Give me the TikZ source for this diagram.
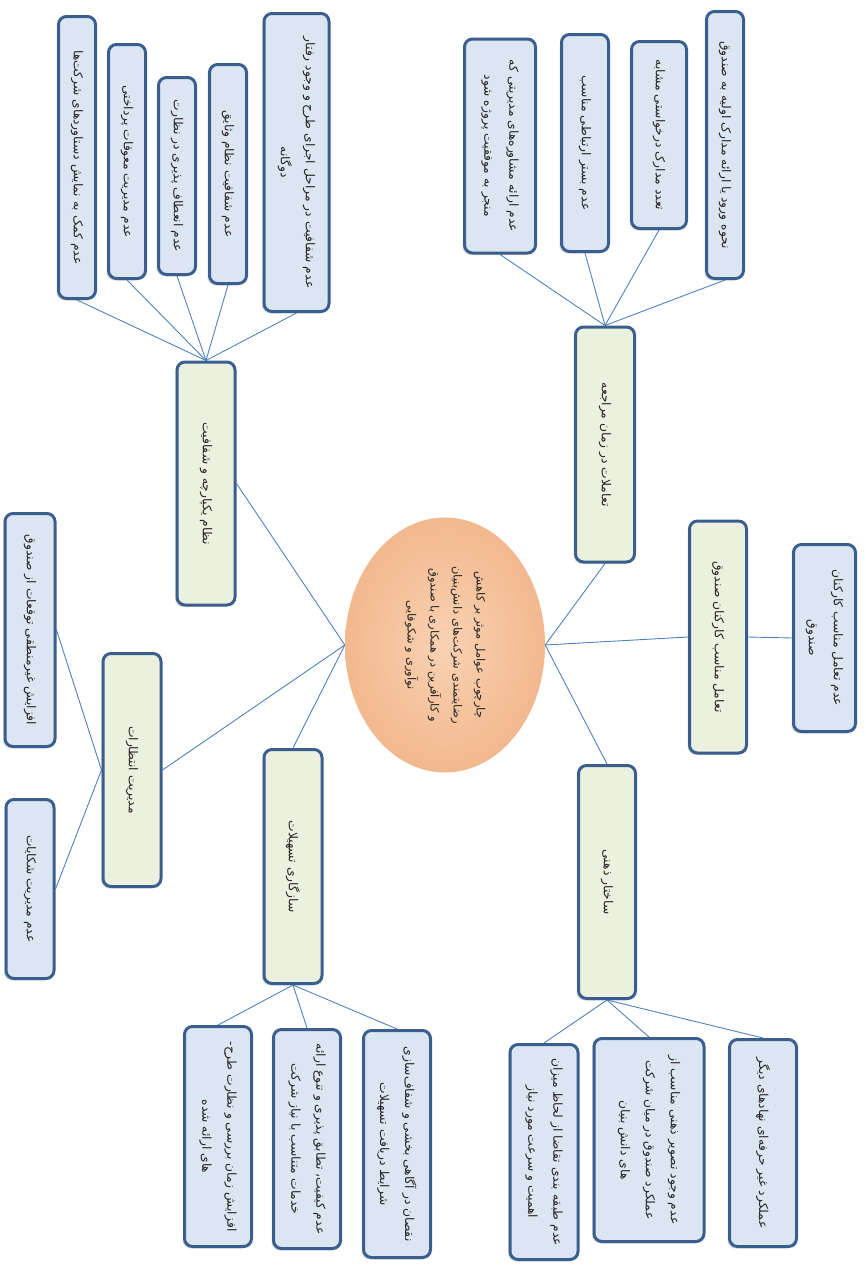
\documentclass[tikz,border=0pt]{standalone}
\usepackage{fontspec}
\usetikzlibrary{shapes.geometric,shadows,backgrounds}
\TeXXeTstate=1
\newfontfamily\arabicfont[Script=Arabic]{DejaVu Sans}
\newcommand{\rl}[1]{\beginR #1\endR}
\definecolor{bord}{HTML}{3A5F8E}
\definecolor{leaf}{HTML}{DCE6F2}
\definecolor{cat}{HTML}{EBF1DE}
\definecolor{linkc}{HTML}{4F81BD}
\definecolor{peachin}{HTML}{F9D2B2}
\definecolor{peachout}{HTML}{F2B88E}
\begin{document}
\begin{tikzpicture}[x=1pt,y=-1pt,
  box/.style={draw=bord, line width=3pt, rounded corners=8pt, rotate=-90, align=center, inner sep=2pt,
     font=\fontsize{12.3}{25}\selectfont\arabicfont, text=black!85,
     drop shadow={shadow xshift=-2pt,shadow yshift=-2pt,opacity=0.25}},
  leafbox/.style={box, fill=leaf},
  catbox/.style={box, fill=cat},
  conn/.style={draw=linkc, line width=0.9pt}]
\useasboundingbox (0,0) rectangle (865,1266);

% central ellipse
\node[ellipse, rotate=-90, minimum width=255, minimum height=200, inner sep=0,
  inner color=peachin, outer color=peachout, align=center, text=black!85,
  font=\fontsize{11.5}{23}\selectfont\arabicfont] (E) at (445,645)
  {\rl{چارچوب عوامل موثر بر کاهش}\\\rl{رضایتمندی شرکت‌های دانش‌بنیان}\\\rl{و کارآفرین در همکاری با صندوق}\\\rl{نوآوری و شکوفایی}};

% top-left group
\node[leafbox, minimum width=282, minimum height=37] (B1) at (77,157.5) {\rl{عدم کمک به نمایش دستاوردهای شرکت‌ها}};
\node[leafbox, minimum width=234, minimum height=37] (B2) at (127,161.5) {\rl{عدم مدیریت معوقات پرداختی}};
\node[leafbox, minimum width=197, minimum height=37] (B3) at (177,176) {\rl{عدم انعطاف پذیری در نظارت}};
\node[leafbox, minimum width=219, minimum height=37] (B4) at (228,174) {\rl{عدم شفافیت نظام وثایق}};
\node[leafbox, minimum width=298, minimum height=65] (B5) at (296.5,162.5) {\rl{عدم شفافیت در مراحل اجرای طرح و وجود رفتار}\\\rl{دوگانه}};
\node[catbox, minimum width=243, minimum height=58] (N) at (206,483.5) {\rl{نظام یکپارچه و شفافیت}};

% top-right group
\node[leafbox, minimum width=214, minimum height=71] (C1) at (500,146) {\rl{عدم ارائه مشاوره‌های مدیریتی که}\\\rl{منجر به موفقیت پروژه شود}};
\node[leafbox, minimum width=217, minimum height=47] (C2) at (585,143) {\rl{عدم بستر ارتباطی مناسب}};
\node[leafbox, minimum width=187, minimum height=55] (C3) at (659,135) {\rl{تعدد مدارک درخواستی مشابه}};
\node[leafbox, minimum width=267, minimum height=37] (C4) at (725,145) {\rl{نحوه ورود یا ارائه مدارک اولیه به صندوق}};
\node[catbox, minimum width=235, minimum height=59] (T) at (605,444.5) {\rl{تعاملات در زمان مراجعه}};

% right middle
\node[catbox, minimum width=232, minimum height=57] (R) at (718,637) {\rl{تعامل مناسب کارکنان صندوق}};
\node[leafbox, minimum width=187, minimum height=62] (D) at (824.5,638) {\rl{عدم تعامل مناسب کارکنان}\\\rl{صندوق}};

% bottom-right group
\node[catbox, minimum width=233, minimum height=57] (S) at (607,882) {\rl{ساختار ذهنی}};
\node[leafbox, minimum width=215, minimum height=68] (E1) at (544,1152) {\rl{عدم طبقه بندی تقاضا از لحاظ میزان}\\\rl{اهمیت و سرعت مورد نیاز}};
\node[leafbox, minimum width=203, minimum height=110] (E2) at (649,1140) {\rl{عدم وجود تصویر ذهنی مناسب از}\\\rl{عملکرد صندوق در میان شرکت}\\\rl{های دانش بنیان}};
\node[leafbox, minimum width=207, minimum height=67] (E3) at (763,1143) {\rl{عملکرد غیر حرفه‌ای نهادهای دیگر}};

% bottom-left group
\node[catbox, minimum width=234, minimum height=58] (A) at (293,866.5) {\rl{سازگاری تسهیلات}};
\node[leafbox, minimum width=220, minimum height=67] (F1) at (218,1136.5) {\rl{افزایش زمان بررسی و نظارت طرح-}\\\rl{های ارائه شده}};
\node[leafbox, minimum width=219, minimum height=67] (F2) at (307,1139) {\rl{عدم کیفیت، تطابق پذیری و تنوع ارائه}\\\rl{خدمات متناسب با نیاز شرکت}};
\node[leafbox, minimum width=227, minimum height=67] (F3) at (397,1144) {\rl{نقصان در آگاهی بخشی و شفاف‌سازی}\\\rl{شرایط دریافت تسهیلات}};

% left middle
\node[catbox, minimum width=233, minimum height=58] (M) at (132,770) {\rl{مدیریت انتظارات}};
\node[leafbox, minimum width=233, minimum height=50] (G1) at (30,630) {\rl{افزایش غیرمنطقی توقعات از صندوق}};
\node[leafbox, minimum width=179, minimum height=48] (G2) at (30,889) {\rl{عدم مدیریت شکایات}};

\begin{scope}[on background layer]
\foreach \b in {B1,B2,B3,B4,B5} \draw[conn] (\b.east) -- (N.west);
\draw[conn] (N.north) -- (E.south);
\foreach \c in {C1,C2,C3,C4} \draw[conn] (\c.east) -- (T.west);
\draw[conn] (T.east) -- (E.north);
\draw[conn] (R.south) -- (E.north);
\draw[conn] (R.north) -- (D.south);
\draw[conn] (S.west) -- (E.north);
\foreach \e in {E1,E2,E3} \draw[conn] (S.east) -- (\e.west);
\draw[conn] (A.west) -- (E.south);
\foreach \f in {F1,F2,F3} \draw[conn] (A.east) -- (\f.west);
\draw[conn] (M.north) -- (E.south);
\draw[conn] (M.south) -- (G1.north);
\draw[conn] (M.south) -- (G2.north);
\end{scope}
\end{tikzpicture}
\end{document}
